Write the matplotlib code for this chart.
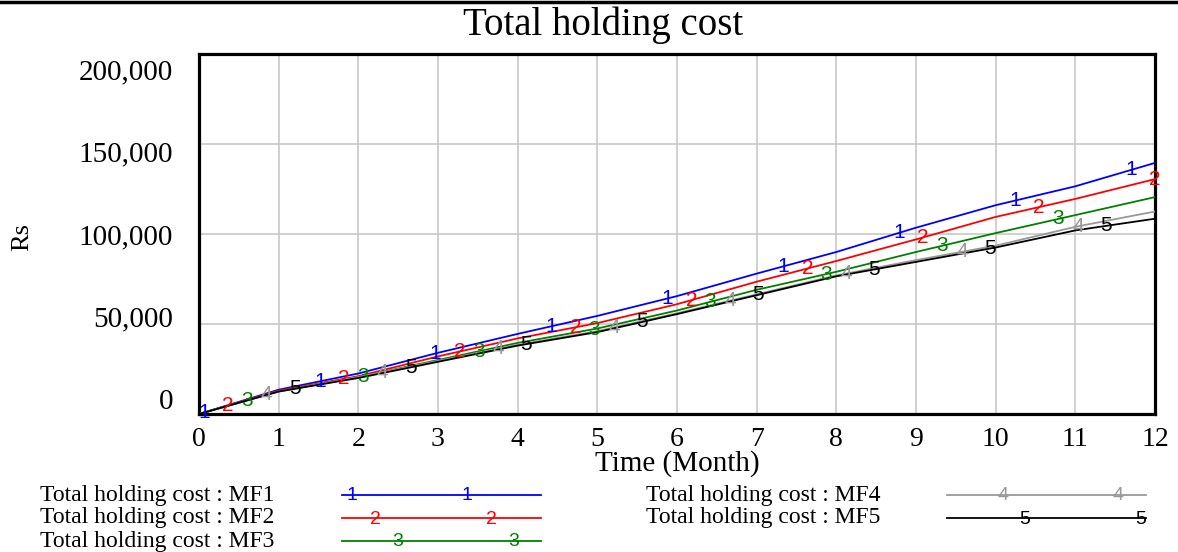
import numpy as np
import matplotlib
matplotlib.use("Agg")
import matplotlib.pyplot as plt
from matplotlib.lines import Line2D

# Monthly totals (Rs) for each model
months = [0, 1, 2, 3, 4, 5, 6, 7, 8, 9, 10, 11, 12]
mf1 = [0, 13500, 22500, 34000, 44500, 54500, 65500, 78000, 90000, 103500, 116000, 126500, 139500]
mf2 = [0, 13000, 21000, 32000, 42000, 50500, 61000, 73500, 85000, 97000, 109500, 119500, 130500]
mf3 = [0, 12500, 20500, 30000, 39500, 47500, 57500, 69000, 79000, 90000, 100500, 110500, 120500]
mf4 = [0, 12500, 20500, 29500, 38500, 46000, 56000, 66500, 77000, 85500, 93500, 104000, 112500]
mf5 = [0, 12500, 20000, 29000, 38000, 45500, 55500, 66000, 76500, 84500, 92500, 102000, 108500]

series_names = ["MF1", "MF2", "MF3", "MF4", "MF5"]
series_values = [mf1, mf2, mf3, mf4, mf5]
series_colors = ["#0000ff", "#ff0000", "#008000", "#999999", "#000000"]
series_tags = ["1", "2", "3", "4", "5"]

x_ticks = list(range(0, 13))
y_ticks = [0, 50000, 100000, 150000, 200000]
y_tick_labels = ["0", "50,000", "100,000", "150,000", "200,000"]

W, H = 1178, 552
fig = plt.figure(figsize=(W / 100, H / 100), dpi=100)

SERIF = "Liberation Serif"
SANS = "Liberation Sans"


def fx(px):
    return px / W


def fy(py):
    return 1 - py / H


# plot area
left, right, top, bottom = 199, 1155, 54, 414
ax = fig.add_axes([fx(left), fy(bottom), fx(right) - fx(left), fy(top) - fy(bottom)])
ax.set_xlim(0, 12)
ax.set_ylim(0, 200000)
ax.set_xticks(x_ticks)
ax.set_xticklabels([str(t) for t in x_ticks], fontfamily=SERIF, fontsize=20)
ax.set_yticks(y_ticks)
ax.set_yticklabels([])
ax.tick_params(axis="both", length=0)
ax.tick_params(axis="x", pad=9)
ax.grid(True, color="#c8c8c8", linewidth=1.2)
ax.set_axisbelow(True)
for sp in ax.spines.values():
    sp.set_linewidth(2.3)
    sp.set_color("black")

# y tick labels are spread evenly along the axis
label_fracs = [0.033, 0.262, 0.491, 0.72, 0.95]
for frac, lab in zip(label_fracs, y_tick_labels):
    ax.text(-0.027, frac, lab, transform=ax.transAxes, ha="right", va="center",
            fontfamily=SERIF, fontsize=21)

# lines with numbered tags
tag_start = [0.06, 0.36, 0.60, 0.85, 1.20]
tag_step = 1.455
for vals, col, tag, t0 in zip(series_values, series_colors, series_tags, tag_start):
    ax.plot(months, vals, color=col, linewidth=1.3, zorder=3)
    tt = np.arange(t0, 12.001, tag_step)
    yy = np.interp(tt, months, vals)
    for a, b in zip(tt, yy):
        ax.text(a, b, tag, color=col, ha="center", va="center", fontfamily=SANS,
                fontsize=15, zorder=4, clip_on=False)

# titles and axis labels
fig.text(fx(603), fy(25), "Total holding cost", ha="center", va="center",
         fontfamily=SERIF, fontsize=28)
fig.text(fx(677), fy(464), "Time (Month)", ha="center", va="center", fontfamily=SERIF, fontsize=21)
fig.text(fx(22), fy(237), "Rs", ha="center", va="center", rotation=90, fontfamily=SERIF, fontsize=19)

# rule across the top edge
fig.add_artist(Line2D([0, 1], [fy(2), fy(2)], transform=fig.transFigure, color="black", linewidth=2.5))

# legend
legend_rows = [
    (40, 342, 541, 495, [352, 467]),
    (40, 342, 541, 518, [375, 491]),
    (40, 342, 541, 541, [398, 514]),
    (646, 947, 1146, 495, [1003, 1118]),
    (646, 947, 1146, 518, [1025, 1141]),
]
for (tx, lx0, lx1, ly, tag_x), name, col, tag in zip(legend_rows, series_names, series_colors, series_tags):
    fig.text(fx(tx), fy(ly), "Total holding cost : " + name, ha="left", va="center",
             fontfamily=SERIF, fontsize=17)
    fig.add_artist(Line2D([fx(lx0), fx(lx1)], [fy(ly), fy(ly)], transform=fig.transFigure,
                          color=col, linewidth=1.3))
    for mx in tag_x:
        fig.text(fx(mx), fy(ly + 1), tag, color=col, ha="center", va="center",
                 fontfamily=SANS, fontsize=14)

fig.savefig("out.png", dpi=100)
